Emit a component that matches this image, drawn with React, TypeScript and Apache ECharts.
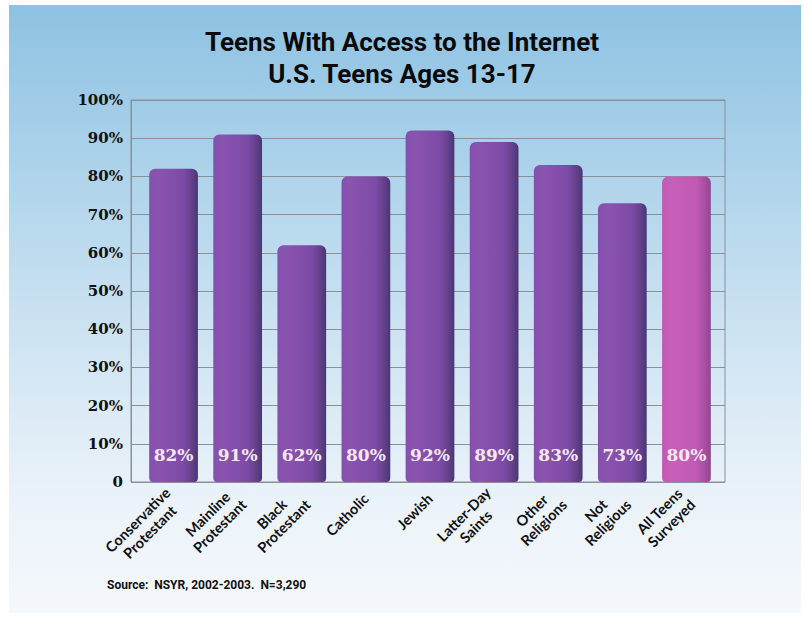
import React, { useEffect, useRef } from "react";
import * as echarts from "echarts";

const categories = [
  "Conservative\nProtestant",
  "Mainline\nProtestant",
  "Black\nProtestant",
  "Catholic",
  "Jewish",
  "Latter-Day\nSaints",
  "Other\nReligions",
  "Not\nReligious",
  "All Teens\nSurveyed",
];
const values = [82, 91, 62, 80, 92, 89, 83, 73, 80];
const highlightIndex = 8;
const titleLines = ["Teens With Access to the Internet", "U.S. Teens Ages 13-17"];
const sourceText = "Source:  NSYR, 2002-2003.  N=3,290";

const NARROW = "Roboto, 'Open Sans', sans-serif";
const SERIF = "'DejaVu Serif', 'Liberation Serif', serif";
const LABEL_FONT = "Lato, 'Open Sans', sans-serif";

function purple() {
  return new echarts.graphic.LinearGradient(0, 0, 1, 0, [
    { offset: 0, color: "#8550ad" },
    { offset: 0.2, color: "#8a53b0" },
    { offset: 0.7, color: "#7c4ba6" },
    { offset: 0.86, color: "#66418e" },
    { offset: 1, color: "#4a3675" },
  ]);
}
function pink() {
  return new echarts.graphic.LinearGradient(0, 0, 1, 0, [
    { offset: 0, color: "#c15ab3" },
    { offset: 0.2, color: "#c95fb8" },
    { offset: 0.7, color: "#c05ab2" },
    { offset: 0.88, color: "#a94ea2" },
    { offset: 1, color: "#8f4690" },
  ]);
}

export default function App() {
  const ref = useRef<HTMLDivElement>(null);
  useEffect(() => {
    if (!ref.current) return;
    const chart = echarts.init(ref.current, null, { renderer: "svg" });
    const titleStyle = {
      fontFamily: NARROW,
      fontWeight: "bold",
      fontSize: 26,
      color: "#0a0a0a",
    };
    const option = {
      animation: false,
      graphic: [
        {
          type: "rect",
          z: -10,
          silent: true,
          shape: { x: 9, y: 5, width: 792, height: 608 },
          style: {
            fill: new echarts.graphic.LinearGradient(0, 0, 0, 1, [
              { offset: 0, color: "#8dc2e2" },
              { offset: 0.45, color: "#c3def0" },
              { offset: 0.8, color: "#eaf2f9" },
              { offset: 1, color: "#f4f8fc" },
            ]),
          },
        },
        {
          type: "text",
          left: 107,
          top: 579,
          style: {
            text: sourceText,
            fill: "#111",
            font: `bold 12px ${NARROW}`,
          },
        },
      ],
      title: [
        { text: titleLines[0], left: "center", top: 24, textStyle: titleStyle },
        { text: titleLines[1], left: "center", top: 56, textStyle: titleStyle },
      ],
      grid: [
        { left: 131, top: 100, width: 594, height: 382, show: true, borderColor: "#8a9096", borderWidth: 1 },
        { left: 141.5, top: 100, width: 577, height: 382 },
      ],
      xAxis: [
        {
          type: "category",
          gridIndex: 0,
          data: categories,
          show: false,
        },
        {
          type: "category",
          gridIndex: 1,
          data: categories,
          axisLine: { show: false },
          axisTick: { show: false },
          axisLabel: {
            rotate: 45,
            margin: 14,
            interval: 0,
            color: "#111",
            fontWeight: "bold",
            fontSize: 14.5,
            lineHeight: 17,
            fontFamily: LABEL_FONT,
            formatter: (v: string) =>
              v
                .split("\n")
                .map((s) => `{c|${s}}`)
                .join("\n"),
            rich: {
              c: {
                align: "center",
                color: "#111",
                fontWeight: "bold",
                fontSize: 14.5,
                lineHeight: 17,
                fontFamily: LABEL_FONT,
              },
            },
          },
        },
      ],
      yAxis: [
        {
          type: "value",
          gridIndex: 0,
          min: 0,
          max: 100,
          interval: 10,
          axisLine: { show: true, lineStyle: { color: "#8a9096" } },
          axisTick: { show: false },
          splitLine: { show: true, lineStyle: { color: "#8a9096", width: 1 } },
          axisLabel: {
            margin: 8,
            color: "#111",
            fontWeight: "bold",
            fontSize: 15,
            fontFamily: SERIF,
            formatter: (v: number) => (v === 0 ? "0" : v + "%"),
          },
        },
        {
          type: "value",
          gridIndex: 1,
          min: 0,
          max: 100,
          show: false,
        },
      ],
      series: [
        {
          type: "bar",
          xAxisIndex: 1,
          yAxisIndex: 1,
          barWidth: "76%",
          data: values.map((v, i) => ({
            value: v,
            itemStyle: {
              color: i === highlightIndex ? pink() : purple(),
              borderRadius: [6, 6, 4, 4],
            },
          })),
          label: {
            show: true,
            position: "insideBottom",
            distance: 19,
            formatter: "{c}%",
            color: "#f4e8f4",
            fontFamily: SERIF,
            fontWeight: "bold",
            fontSize: 17,
          },
        },
      ],
    };
    chart.setOption(option as any);
    return () => chart.dispose();
  }, []);
  return (
    <div
      ref={ref}
      style={{ position: "absolute", left: 0, top: 0, width: 804, height: 617, background: "#fff" }}
    />
  );
}
